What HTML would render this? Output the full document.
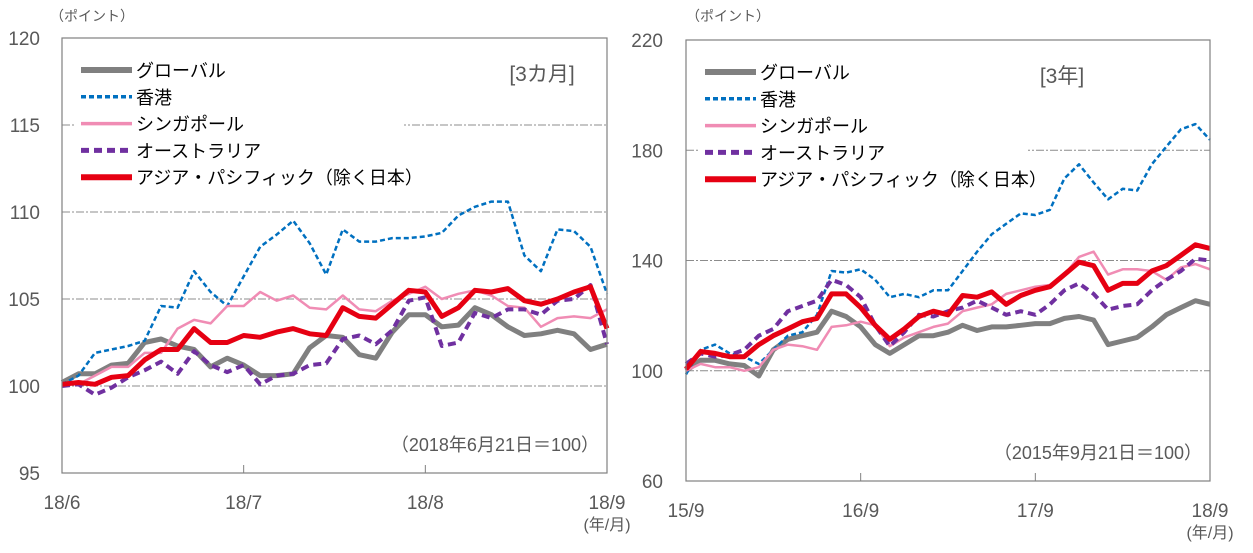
<!DOCTYPE html>
<html><head><meta charset="utf-8"><style>
body{margin:0;background:#fff;}
svg text{font-family:"Liberation Sans","Noto Sans CJK JP",sans-serif;fill:#595959;}
</style></head><body>
<svg id="c" width="1253" height="548" viewBox="0 0 1253 548" xmlns="http://www.w3.org/2000/svg"></svg>
<script>
// ---- left chart data (3 months, index 2 trading days) ----
const L_global=[100.2,100.7,100.7,101.2,101.3,102.5,102.7,102.3,102.1,101.1,101.6,101.2,100.6,100.6,100.7,102.2,102.9,102.8,101.8,101.6,103.1,104.1,104.1,103.4,103.5,104.5,104.1,103.4,102.9,103.0,103.2,103.0,102.1,102.4];
const L_hk=[100.1,100.6,101.9,102.1,102.3,102.6,104.6,104.5,106.6,105.4,104.6,106.3,108.0,108.7,109.5,108.2,106.4,109.0,108.3,108.3,108.5,108.5,108.6,108.8,109.8,110.3,110.6,110.6,107.5,106.6,109.0,108.9,108.0,105.3];
const L_sg=[100.1,100.1,100.6,101.1,101.1,101.9,101.9,103.3,103.8,103.6,104.6,104.6,105.4,104.9,105.2,104.5,104.4,105.2,104.4,104.3,104.9,105.3,105.7,105.0,105.3,105.5,105.2,104.6,104.5,103.4,103.9,104.0,103.9,104.4];
const L_au=[100.0,100.1,99.5,99.9,100.5,100.9,101.4,100.7,102.0,101.2,100.8,101.2,100.1,100.6,100.7,101.2,101.3,102.7,102.9,102.4,103.2,104.9,105.1,102.3,102.5,104.2,103.9,104.4,104.4,104.1,104.9,105.0,105.8,102.4];
const L_ap=[100.1,100.2,100.1,100.5,100.6,101.5,102.1,102.1,103.3,102.5,102.5,102.9,102.8,103.1,103.3,103.0,102.9,104.5,104.0,103.9,104.7,105.5,105.4,104.0,104.5,105.5,105.4,105.6,104.9,104.7,105.0,105.4,105.7,103.3];
const L_yticks=[95,100,105,110,115,120];
const L_xlabels=["18/6","18/7","18/8","18/9"];
// ---- right chart data (3 years, monthly) ----
const R_global=[100,103.8,103.8,102.5,101.9,98.1,107.6,111.4,112.7,114,121.6,119.7,115.9,109.5,106.3,109.5,112.7,112.7,114,116.5,114.6,115.9,115.9,116.5,117.1,117.1,119,119.7,118.4,109.5,110.8,112.1,115.9,120.3,122.9,125.4,124.1];
const R_hk=[98.7,107.6,109.5,106.3,105.1,102.5,107.6,112.7,114,120.3,136.2,135.6,136.8,133,126.7,127.9,126.7,129.2,129.2,136.2,143.2,149.5,153.3,157.1,156.5,158.4,169.8,174.9,168.3,162.2,166,165.4,174.9,181.3,187.6,189.5,183.8];
const R_sg=[100,102.5,101.3,101.3,100,101.3,107.6,109.5,108.9,107.6,115.9,116.5,117.8,116.5,108.9,112.1,114,115.9,117.1,121.6,122.9,124.1,127.9,129.2,130.5,131.1,134.9,141.3,143.2,134.9,136.8,136.8,136.2,133,137.5,138.7,136.8];
const R_au=[102.5,106.3,105.1,105.7,107.6,112.7,115.2,121.6,123.5,125.4,133,131.1,126.7,116.5,108.9,114,120.3,119.7,121.6,122.9,125.4,122.9,120.3,121.6,120.3,124.1,129.2,131.7,127.9,122.2,123.5,124.1,129.2,133,136.2,140.6,140];
const R_ap=[100.6,107,106.3,105.1,105.1,109.5,112.7,115.2,117.8,119,127.9,127.9,122.9,116.5,111.4,115.2,119.7,121.6,120.3,127.3,126.7,128.6,124.1,127.3,129.2,130.5,134.9,139.4,138.1,129.2,131.7,131.7,136.2,138.1,141.9,145.7,144.4];
const R_yticks=[60,100,140,180,220];
const R_xlabels=["15/9","16/9","17/9","18/9"];

const legendNames=["グローバル","香港","シンガポール","オーストラリア","アジア・パシフィック（除く日本）"];
const styles=[
 {c:"#808080",w:5,d:""},
 {c:"#0070c0",w:2.5,d:"5,3"},
 {c:"#f08cb4",w:2.5,d:""},
 {c:"#7030a0",w:4,d:"8,5"},
 {c:"#e60012",w:5,d:""}];
const svg=document.getElementById('c');
const NS="http://www.w3.org/2000/svg";
function mk(tag,attrs,parent){const e=document.createElementNS(NS,tag);for(const k in attrs)e.setAttribute(k,attrs[k]);(parent||svg).appendChild(e);return e;}
function txt(s,x,y,size,anchor,parent){const t=mk('text',{x:x,y:y,'font-size':size,'text-anchor':anchor||'start'},parent);t.textContent=s;return t;}

function drawChart(cfg){
 const g=mk('g',{});
 
 
 const {x0,x1,y0,y1,ymin,ymax}=cfg;
 const ys=v=>y1-(v-ymin)/(ymax-ymin)*(y1-y0);
 const n=cfg.series[0].length;
 const xs=i=>x0+i/(n-1)*(x1-x0);
 cfg.yticks.forEach(v=>{
  if(v!==ymin&&v!==ymax){const l=mk('line',{x1:x0,x2:x1,y1:ys(v),y2:ys(v),stroke:'#8c8c8c','stroke-width':1,'stroke-dasharray':'8,2,2,2'},g);
  }
  const t=txt(String(v),x0-cfg.labOff,ys(v)+7,19,'end',g);
  
 });
 cfg.xlabels.forEach((s,i)=>{
  const x=x0+i/(cfg.xlabels.length-1)*(x1-x0);
  if(i>0&&i<cfg.xlabels.length-1){const l=mk('line',{x1:x,x2:x,y1:y1,y2:y1-8,stroke:'#808080','stroke-width':1},g);}
  const t=txt(s,x,y1+36,19,'middle',g);
  
 });
 cfg.series.forEach((arr,k)=>{
  const st=styles[k];
  const p=mk('polyline',{points:arr.map((v,i)=>xs(i).toFixed(1)+','+ys(v).toFixed(1)).join(' '),fill:'none',stroke:st.c,'stroke-width':st.w,'stroke-dasharray':st.d,'stroke-linejoin':'round'},g);
  
  
 });
 const lb=mk('rect',{x:x0+12,y:y0+10,width:cfg.legW,height:150,fill:'#fff'},g);
 
 legendNames.forEach((s,k)=>{
  const st=styles[k],y=y0+32+k*26.8;
  const l=mk('line',{x1:x0+19,x2:x0+70,y1:y,y2:y,stroke:st.c,'stroke-width':st.w+1,'stroke-dasharray':st.d},g);
  
  const t=txt(s,x0+74,y+7,18,'start',g);t.style.fill='#000';
  
 });
 const fr=mk('rect',{x:x0,y:y0,width:x1-x0,height:y1-y0,fill:'none',stroke:'#808080','stroke-width':1.2},g);
 
 const u=txt("（ポイント）",cfg.unitX,21,14,'start',g);
 const pd=txt(cfg.period,cfg.periodX,y0+43,21,'middle',g);
 const nt=txt(cfg.note,x1-8,y1-22,18,'end',g);
 const xm=txt("(年/月)",x1,y1+57,16,'middle',g);
}
drawChart({name:'chart-3-months',x0:62,x1:607,y0:38,y1:473,ymin:95,ymax:120,yticks:L_yticks,xlabels:L_xlabels,
 series:[L_global,L_hk,L_sg,L_au,L_ap],legW:330,labOff:22,unitX:50,period:"[3カ月]",periodX:542,note:"（2018年6月21日＝100）"});
drawChart({name:'chart-3-years',x0:686,x1:1210,y0:40,y1:481,ymin:60,ymax:220,yticks:R_yticks,xlabels:R_xlabels,
 series:[R_global,R_hk,R_sg,R_au,R_ap],legW:330,labOff:23,unitX:686,period:"[3年]",periodX:1062,note:"（2015年9月21日＝100）"});
</script>
</body></html>
